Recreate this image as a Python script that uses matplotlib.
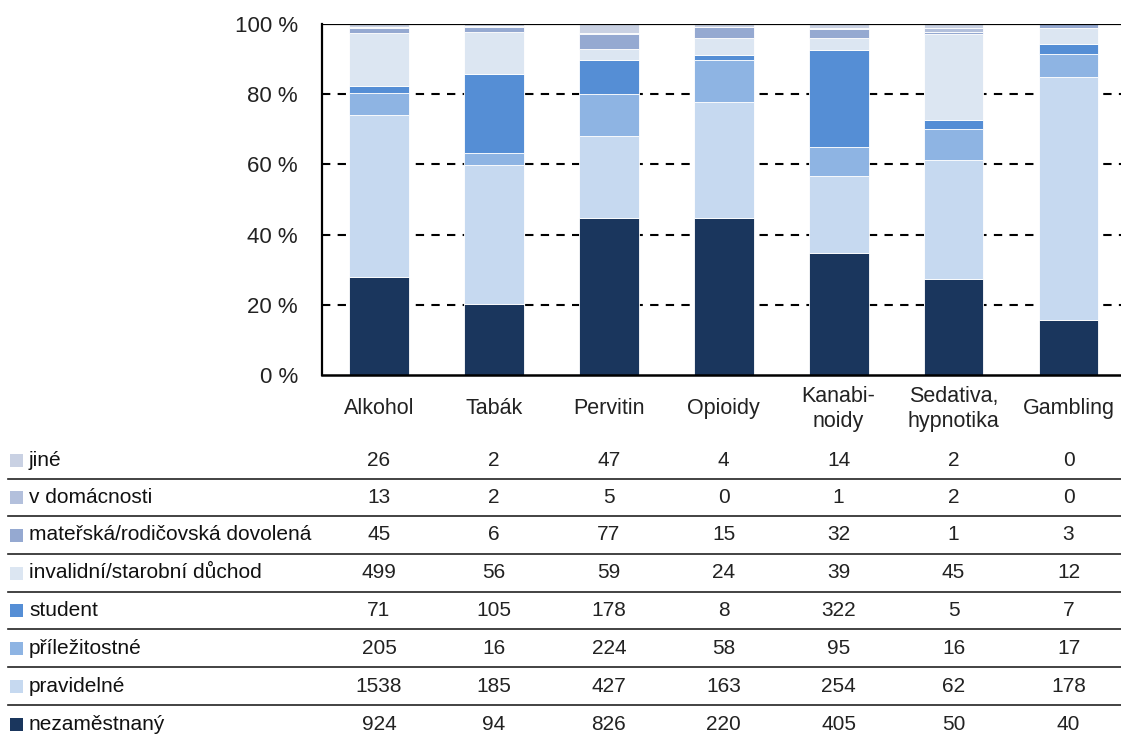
import matplotlib
matplotlib.use("Agg")
import matplotlib.pyplot as plt
from matplotlib.patches import Rectangle
from matplotlib.lines import Line2D
from matplotlib.transforms import blended_transform_factory
import numpy as np

plt.rcParams['font.family'] = ['Liberation Sans', 'DejaVu Sans']

# DATA
categories = ['Alkohol', 'Tabák', 'Pervitin', 'Opioidy', 'Kanabi-\nnoidy', 'Sedativa,\nhypnotika', 'Gambling']
series_names = ['nezaměstnaný', 'pravidelné', 'příležitostné', 'student',
                'invalidní/starobní důchod', 'mateřská/rodičovská dovolená',
                'v domácnosti', 'jiné']
nezamestnany = [924, 94, 826, 220, 405, 50, 40]
pravidelne = [1538, 185, 427, 163, 254, 62, 178]
prilezitostne = [205, 16, 224, 58, 95, 16, 17]
student = [71, 105, 178, 8, 322, 5, 7]
duchod = [499, 56, 59, 24, 39, 45, 12]
materska = [45, 6, 77, 15, 32, 1, 3]
domacnost = [13, 2, 5, 0, 1, 2, 0]
jine = [26, 2, 47, 4, 14, 2, 0]

colors = ['#1A365D', '#C6D9F0', '#8EB4E3', '#558ED5', '#DCE6F2', '#95A9D1', '#B3C0DC', '#C9D1E3']

series = [nezamestnany, pravidelne, prilezitostne, student, duchod, materska, domacnost, jine]
data = np.array(series, dtype=float)
totals = data.sum(axis=0)
pct = data / totals * 100

W, H = 1121, 734
fig = plt.figure(figsize=(W / 100, H / 100), dpi=100)
ax = fig.add_axes([321.5 / W, 1 - 375 / H, (1126 - 321.5) / W, (375 - 24) / H])

x = np.arange(len(categories))
bottom = np.zeros(len(categories))
for i in range(len(series)):
    ax.bar(x, pct[i], 0.52, bottom=bottom, color=colors[i], edgecolor='white', linewidth=0.6, zorder=3)
    bottom += pct[i]

ax.set_xlim(-0.5, len(categories) - 0.5)
ax.set_ylim(0, 100)
ax.set_yticks([0, 20, 40, 60, 80, 100])
ax.set_yticklabels(['0 %', '20 %', '40 %', '60 %', '80 %', '100 %'], fontsize=16, color='#222222')
ax.tick_params(axis='y', length=0, pad=17)
ax.set_xticks([])
for yv in [20, 40, 60, 80]:
    ax.axhline(yv, color='black', linestyle=(0, (4, 3.5)), linewidth=1.5, zorder=1)
ax.axhline(100, color='black', linewidth=1.6, zorder=4)
for s in ['right', 'top']:
    ax.spines[s].set_visible(False)
ax.spines['left'].set_linewidth(1.6)
ax.spines['bottom'].set_linewidth(1.8)
ax.spines['bottom'].set_zorder(5)

trans = blended_transform_factory(ax.transData, fig.transFigure)

# category labels
for i, c in enumerate(categories):
    ax.text(i, 1 - 409 / H, c, transform=trans, ha='center', va='center',
            fontsize=15.5, color='#222222', linespacing=1.3, clip_on=False)

# data table
row_y = [460, 497.5, 535, 573, 610.5, 648, 686, 724]
table_rows = list(range(len(series)))[::-1]
for r, si in enumerate(table_rows):
    yc = 1 - row_y[r] / H
    fig.patches.append(Rectangle((10 / W, yc - 6.5 / H), 13 / W, 13 / H,
                                 transform=fig.transFigure, facecolor=colors[si],
                                 edgecolor='none'))
    fig.text(29 / W, yc, series_names[si], ha='left', va='center', fontsize=15,
             color='#111111')
    for j in range(len(categories)):
        ax.text(j, yc, str(series[si][j]), transform=trans, ha='center', va='center',
                fontsize=15, color='#222222', clip_on=False)

sep_y = [479, 516, 554, 592, 629, 667, 705]
for yy in sep_y:
    fig.add_artist(Line2D([8 / W, 1.0], [1 - yy / H, 1 - yy / H], transform=fig.transFigure,
                          color='#222222', linewidth=1.2))

fig.savefig('out.png', dpi=100)
